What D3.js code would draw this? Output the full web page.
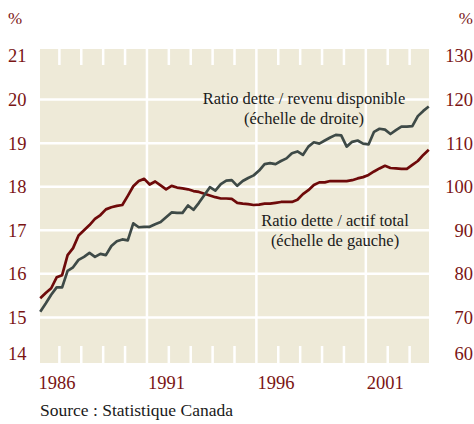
<!DOCTYPE html>
<html>
<head>
<meta charset="utf-8">
<script src="https://cdn.jsdelivr.net/npm/d3@7"></script>
<style>
    body { margin: 0; background: #fff; }
    text { font-family: "Liberation Serif", "DejaVu Serif", serif; }
</style>
</head>
<body>
<div id="chart"></div>
<script>

// quarterly values, 1986Q1 .. 2003Q4
const years = d3.range(1986, 2004)
const quarters = [1, 2, 3, 4]

// debt / total assets (left scale, %)
const debtAssets = [
    15.44, 15.56, 15.67, 15.92, 15.97, 16.43, 16.59, 16.88,
    17.00, 17.12, 17.26, 17.35, 17.48, 17.53, 17.56, 17.58,
    17.79, 18.01, 18.13, 18.18, 18.05, 18.12, 18.03, 17.94,
    18.02, 17.98, 17.96, 17.94, 17.90, 17.88, 17.84, 17.80,
    17.76, 17.73, 17.73, 17.72, 17.63, 17.61, 17.60, 17.58,
    17.59, 17.61, 17.61, 17.63, 17.65, 17.65, 17.65, 17.70,
    17.83, 17.92, 18.04, 18.10, 18.10, 18.13, 18.13, 18.13,
    18.13, 18.15, 18.19, 18.22, 18.27, 18.35, 18.42, 18.48,
    18.43, 18.42, 18.41, 18.41, 18.50, 18.59, 18.73, 18.85
]

// debt / disposable income (right scale, %)
const debtIncome = [
    71.3, 73.2, 75.2, 76.9, 76.9, 80.7, 81.5, 83.2,
    83.9, 84.8, 83.9, 84.6, 84.3, 86.4, 87.5, 87.9,
    87.7, 91.6, 90.7, 90.8, 90.8, 91.4, 91.9, 93.0,
    94.1, 94.0, 94.0, 95.7, 94.7, 96.3, 98.1, 99.9,
    99.1, 100.6, 101.4, 101.5, 100.2, 101.3, 102.0, 102.6,
    103.7, 105.2, 105.4, 105.2, 105.9, 106.5, 107.7, 108.1,
    107.3, 109.2, 110.2, 109.9, 110.6, 111.3, 111.9, 111.8,
    109.2, 110.3, 110.6, 109.9, 109.7, 112.6, 113.3, 113.1,
    112.1, 113.0, 113.8, 113.8, 113.9, 116.2, 117.4, 118.4
]

const leftTicks = [14, 15, 16, 17, 18, 19, 20, 21]
const rightTicks = [60, 70, 80, 90, 100, 110, 120, 130]
const yearLabels = [1986, 1991, 1996, 2001]
const majorYears = [1991, 1996, 2001]

const labelIncome = ["Ratio dette / revenu disponible", "(échelle de droite)"]
const labelAssets = ["Ratio dette / actif total", "(échelle de gauche)"]
const source = "Source : Statistique Canada"

////////////////////////////////////
////////////// globals /////////////
////////////////////////////////////

const svgWidth = 474
const svgHeight = 424

const plot = { left: 40, right: 429, top: 49, bottom: 363 }

const red = "#6e0a0a"
const grey = "#3e4a47"
const axisColor = "#7a1414"
const bg = "#eeead8"

const svg = d3.select("#chart")
    .append("svg")
    .attr("width", svgWidth)
    .attr("height", svgHeight)

////////////////////////////////////
//////////data wrangling////////////
////////////////////////////////////

const dates = years.map(y => quarters.map(q => y + (q - 0.5) / 4)).flat()
const assetsSeries = dates.map((d, i) => ({ date: d, value: debtAssets[i] }))
const incomeSeries = dates.map((d, i) => ({ date: d, value: debtIncome[i] }))

////////////////////////////////////
//////////////scales////////////////
////////////////////////////////////

const x = d3.scaleLinear()
    .domain([1986, 2004])
    .range([37.5, 431.5])

const yLeft = d3.scaleLinear()
    .domain([14, 21])
    .range([361, 56])

const yRight = d3.scaleLinear()
    .domain([60, 130])
    .range([361, 56])

////////////////////////////////////
///////////////grid/////////////////
////////////////////////////////////

svg.append("rect")
    .attr("x", plot.left)
    .attr("y", plot.top)
    .attr("width", plot.right - plot.left)
    .attr("height", plot.bottom - plot.top)
    .attr("fill", bg)

const grid = svg.append("g")
    .attr("stroke", "white")
    .attr("stroke-width", 2.5)

// horizontal gridlines (skip the edges)
grid.selectAll(".hgrid")
    .data(leftTicks.filter(d => d > 14 && d < 21))
    .join("line")
    .attr("x1", plot.left)
    .attr("x2", plot.right)
    .attr("y1", d => yLeft(d))
    .attr("y2", d => yLeft(d))

// full vertical lines every 5 years
grid.selectAll(".vgrid")
    .data(majorYears)
    .join("line")
    .attr("x1", d => x(d))
    .attr("x2", d => x(d))
    .attr("y1", plot.top)
    .attr("y2", plot.bottom)

// small yearly ticks, top and bottom
const tickYears = d3.range(1987, 2004).filter(d => !majorYears.includes(d))
grid.selectAll(".ttick")
    .data(tickYears)
    .join("line")
    .attr("x1", d => x(d))
    .attr("x2", d => x(d))
    .attr("y1", plot.top)
    .attr("y2", plot.top + 16)

grid.selectAll(".btick")
    .data(tickYears)
    .join("line")
    .attr("x1", d => x(d))
    .attr("x2", d => x(d))
    .attr("y1", plot.bottom - 17)
    .attr("y2", plot.bottom)

////////////////////////////////////
///////////////lines////////////////
////////////////////////////////////

const lineLeft = d3.line()
    .x(d => x(d.date))
    .y(d => yLeft(d.value))

const lineRight = d3.line()
    .x(d => x(d.date))
    .y(d => yRight(d.value))

svg.append("path")
    .datum(assetsSeries)
    .attr("d", lineLeft)
    .attr("fill", "none")
    .attr("stroke", red)
    .attr("stroke-width", 2.7)
    .attr("stroke-linejoin", "round")

svg.append("path")
    .datum(incomeSeries)
    .attr("d", lineRight)
    .attr("fill", "none")
    .attr("stroke", grey)
    .attr("stroke-width", 2.7)
    .attr("stroke-linejoin", "round")

////////////////////////////////////
//////////////axes//////////////////
////////////////////////////////////

const clampY = v => Math.min(Math.max(v, 50), 354)

svg.append("g")
    .selectAll("text")
    .data(leftTicks)
    .join("text")
    .attr("x", 8)
    .attr("y", d => clampY(yLeft(d)))
    .attr("dy", "0.35em")
    .attr("fill", axisColor)
    .attr("font-size", 18.5)
    .text(d => d)

svg.append("g")
    .selectAll("text")
    .data(rightTicks)
    .join("text")
    .attr("x", 473)
    .attr("y", d => clampY(yRight(d)))
    .attr("dy", "0.35em")
    .attr("text-anchor", "end")
    .attr("fill", axisColor)
    .attr("font-size", 18.5)
    .text(d => d)

svg.append("text")
    .attr("x", 8)
    .attr("y", 24)
    .attr("fill", axisColor)
    .attr("font-size", 17)
    .text("%")

svg.append("text")
    .attr("x", 473)
    .attr("y", 24)
    .attr("text-anchor", "end")
    .attr("fill", axisColor)
    .attr("font-size", 17)
    .text("%")

svg.append("g")
    .selectAll("text")
    .data(yearLabels)
    .join("text")
    .attr("x", d => x(d) + 1)
    .attr("y", 389)
    .attr("fill", axisColor)
    .attr("font-size", 18.5)
    .text(d => d)

////////////////////////////////////
////////////annotations/////////////
////////////////////////////////////

svg.append("g")
    .selectAll("text")
    .data(labelIncome)
    .join("text")
    .attr("x", 304)
    .attr("y", (d, i) => 104 + i * 20)
    .attr("text-anchor", "middle")
    .attr("fill", "#1a1a1a")
    .attr("font-size", 16.5)
    .text(d => d)

svg.append("g")
    .selectAll("text")
    .data(labelAssets)
    .join("text")
    .attr("x", 335)
    .attr("y", (d, i) => 226 + i * 20)
    .attr("text-anchor", "middle")
    .attr("fill", "#1a1a1a")
    .attr("font-size", 16.5)
    .text(d => d)

svg.append("text")
    .attr("x", 40)
    .attr("y", 416)
    .attr("fill", "#1a1a1a")
    .attr("font-size", 17.5)
    .text(source)

</script>
</body>
</html>
